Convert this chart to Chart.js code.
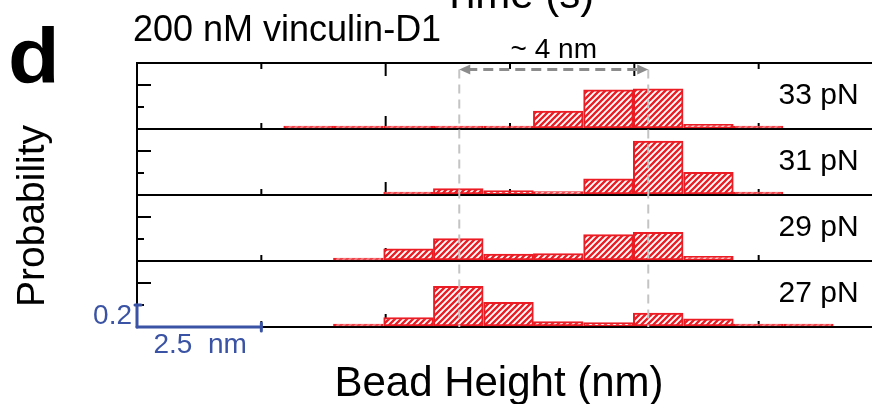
<!DOCTYPE html>
<html lang="en">
<head>
<meta charset="utf-8">
<title>Bead height histograms</title>
<script src="https://cdn.jsdelivr.net/npm/chart.js@4.4.1/dist/chart.umd.min.js"></script>
<style>
    html, body { margin: 0; padding: 0; background: #fff; overflow: hidden; }
    #figure {
        position: relative; width: 872px; height: 404px; overflow: hidden;
        font-family: Arial, "Liberation Sans", Helvetica, sans-serif; color: #000;
    }
    #hist { position: absolute; left: 0; top: 0; }
    .txt { position: absolute; white-space: nowrap; line-height: 1; }
    #panel-letter { left: 8px; top: 18px; font-size: 77px; font-weight: bold; transform: scaleX(1.1); transform-origin: left top; }
    #condition { left: 133px; top: 11px; font-size: 36px; }
    #time-title { left: 518px; top: -27px; font-size: 42px; transform: translateX(-50%); }
    #x-title { left: 499px; top: 361px; font-size: 42px; transform: translateX(-50%); }
    #y-title { left: 30px; top: 216px; font-size: 39px; transform: translate(-50%, -50%) rotate(-90deg); }
</style>
</head>
<body>
<div id="figure">
    <canvas id="hist" width="1000" height="404"></canvas>
    <div class="txt" id="time-title">Time (s)</div>
    <div class="txt" id="panel-letter">d</div>
    <div class="txt" id="condition">200 nM vinculin-D1</div>
    <div class="txt" id="y-title">Probability</div>
    <div class="txt" id="x-title">Bead Height (nm)</div>
</div>
<script>
// bead height histograms, one panel per force (top to bottom)
const binCenters = [3.45, 4.45, 5.46, 6.46, 7.47, 8.47, 9.48, 10.48, 11.49, 12.49, 13.5]; // nm
const forceLabels = ['33 pN', '31 pN', '29 pN', '27 pN'];
// probability per bin, null = bin not populated
const prob33 = [0, 0, 0, 0, 0.005, 0.164, 0.355, 0.366, 0.043, 0, null];
const prob31 = [null, null, 0, 0.058, 0.04, 0.03, 0.148, 0.49, 0.206, 0, null];
const prob29 = [null, 0, 0.11, 0.203, 0.062, 0.068, 0.24, 0.26, 0.043, null, null];
const prob27 = [null, 0, 0.086, 0.37, 0.224, 0.049, 0.04, 0.126, 0.074, 0, 0];

const xTicks = [2.5, 5, 7.5, 10, 12.5];
const yTicks = [0.2, 0.4];
const stateHeights = [6.48, 10.28];   // the two bead-height states, nm
const stepLabel = '~ 4 nm';
const barX = 2.5;                     // scale bar, nm
const barY = 0.2;                     // scale bar, probability

const RED = '#ec1c24';
const BLUE = '#3a53a4';
const probSets = [prob33, prob31, prob29, prob27];
const panelIds = ['y33', 'y31', 'y29', 'y27'];

function makeHatch(color) {
    const size = 6;
    const c = document.createElement('canvas');
    c.width = size;
    c.height = size;
    const g = c.getContext('2d');
    g.fillStyle = '#fff';
    g.fillRect(0, 0, size, size);
    g.strokeStyle = color;
    g.lineWidth = 2.3;
    g.beginPath();
    g.moveTo(0, size); g.lineTo(size, 0);
    g.moveTo(-1, 1); g.lineTo(1, -1);
    g.moveTo(size - 1, size + 1); g.lineTo(size + 1, size - 1);
    g.stroke();
    return g.createPattern(c, 'repeat');
}

const hatch = makeHatch(RED);

const datasets = probSets.map((vals, i) => ({
    label: forceLabels[i],
    yAxisID: panelIds[i],
    data: binCenters.map((x, k) => ({ x, y: vals[k] })).filter(d => d.y !== null),
    backgroundColor: hatch,
    borderColor: RED,
    borderWidth: 2,
    borderSkipped: false,
    minBarLength: 3,
    grouped: false,
    barPercentage: 1,
    categoryPercentage: 1
}));

// y scales of the same stack: the last one defined ends up on top
const scales = {
    x: {
        type: 'linear', min: 0, max: 15, offset: false,
        ticks: { display: false },
        grid: { display: false, drawTicks: false },
        border: { display: false }
    }
};
panelIds.slice().reverse().forEach(id => {
    const isTop = id === panelIds[0];
    scales[id] = {
        type: 'linear', position: 'left', stack: 'panels', stackWeight: 1,
        min: 0, max: 0.6,
        ticks: { display: false, stepSize: 0.2 },
        grid: {
            drawTicks: false,
            lineWidth: 2,
            color: c => (c.tick.value === 0 || (isTop && c.tick.value > 0.59)) ? '#000' : 'rgba(0,0,0,0)'
        },
        border: { display: true, color: '#000', width: 2 }
    };
});

function seg(ctx, x1, y1, x2, y2) {
    ctx.beginPath();
    ctx.moveTo(x1, y1);
    ctx.lineTo(x2, y2);
    ctx.stroke();
}

const panelDecor = {
    id: 'panelDecor',
    beforeDatasetsDraw(chart) {
        const { ctx, chartArea, scales: s } = chart;
        ctx.save();
        ctx.strokeStyle = '#000';
        ctx.lineWidth = 2;
        panelIds.forEach((id, i) => {
            const ys = s[id];
            const y0 = ys.getPixelForValue(0);
            const yTop = ys.getPixelForValue(0.6);
            xTicks.forEach(v => {
                const px = s.x.getPixelForValue(v);
                const len = v % 5 === 0 ? 13 : 6;
                seg(ctx, px, y0, px, y0 - len);
                if (i === 0) seg(ctx, px, yTop, px, yTop + len);
            });
            yTicks.forEach(v => {
                const py = ys.getPixelForValue(v);
                const len = v > 0.3 ? 14 : 7;
                seg(ctx, chartArea.left, py, chartArea.left + len, py);
            });
        });
        ctx.restore();
    },
    afterDatasetsDraw(chart) {
        const { ctx, chartArea, scales: s } = chart;
        const top = s[panelIds[0]];
        const bottom = s[panelIds[panelIds.length - 1]];
        const yArrow = top.getPixelForValue(0.54);
        const xa = s.x.getPixelForValue(stateHeights[0]);
        const xb = s.x.getPixelForValue(stateHeights[1]);
        ctx.save();

        // dashed guides at the two states
        ctx.strokeStyle = '#c4c4c4';
        ctx.lineWidth = 2;
        ctx.setLineDash([9, 6]);
        [xa, xb].forEach(px => seg(ctx, px, yArrow, px, chartArea.bottom));

        // double arrow between the states
        ctx.strokeStyle = '#8c8c8c';
        ctx.fillStyle = '#8c8c8c';
        ctx.lineWidth = 3;
        ctx.setLineDash([10, 6]);
        seg(ctx, xa + 8, yArrow, xb - 8, yArrow);
        ctx.setLineDash([]);
        [[xa, 1], [xb, -1]].forEach(([px, dir]) => {
            ctx.beginPath();
            ctx.moveTo(px, yArrow);
            ctx.lineTo(px + dir * 11, yArrow - 5);
            ctx.lineTo(px + dir * 11, yArrow + 5);
            ctx.closePath();
            ctx.fill();
        });

        ctx.fillStyle = '#000';
        ctx.font = '28px Arial, "Liberation Sans", sans-serif';
        ctx.textAlign = 'center';
        ctx.textBaseline = 'alphabetic';
        ctx.fillText(stepLabel, (xa + xb) / 2, chartArea.top - 5);

        // force labels
        ctx.font = '30px Arial, "Liberation Sans", sans-serif';
        ctx.textAlign = 'left';
        panelIds.forEach((id, i) => {
            const ys = s[id];
            const mid = (ys.getPixelForValue(0) + ys.getPixelForValue(0.6)) / 2;
            ctx.fillText(forceLabels[i], s.x.getPixelForValue(12.9), mid + 8);
        });

        // scale bar
        const x0 = s.x.getPixelForValue(0);
        const x1 = s.x.getPixelForValue(barX);
        const y0 = bottom.getPixelForValue(0);
        const y1 = bottom.getPixelForValue(barY);
        ctx.strokeStyle = BLUE;
        ctx.fillStyle = BLUE;
        ctx.lineWidth = 3;
        ctx.lineCap = 'round';
        seg(ctx, x0, y1, x0, y0);
        seg(ctx, x0, y0, x1, y0);
        seg(ctx, x0 - 2, y1, x0 + 4, y1);
        seg(ctx, x1, y0 - 4, x1, y0 + 4);
        ctx.font = '28px Arial, "Liberation Sans", sans-serif';
        ctx.textAlign = 'right';
        ctx.textBaseline = 'middle';
        ctx.fillText(String(barY), x0 - 5, (y0 + y1) / 2);
        ctx.textAlign = 'center';
        ctx.textBaseline = 'top';
        ctx.fillText(barX + '  nm', (x0 + x1) / 2 + 1, y0 + 4);
        ctx.restore();
    }
};

new Chart(document.getElementById('hist'), {
    type: 'bar',
    data: { datasets },
    options: {
        responsive: false,
        maintainAspectRatio: false,
        animation: false,
        events: [],
        layout: { padding: { left: 137, top: 63, right: 117, bottom: 77 } },
        plugins: { legend: { display: false }, tooltip: { enabled: false } },
        scales
    },
    plugins: [panelDecor]
});
</script>
</body>
</html>
